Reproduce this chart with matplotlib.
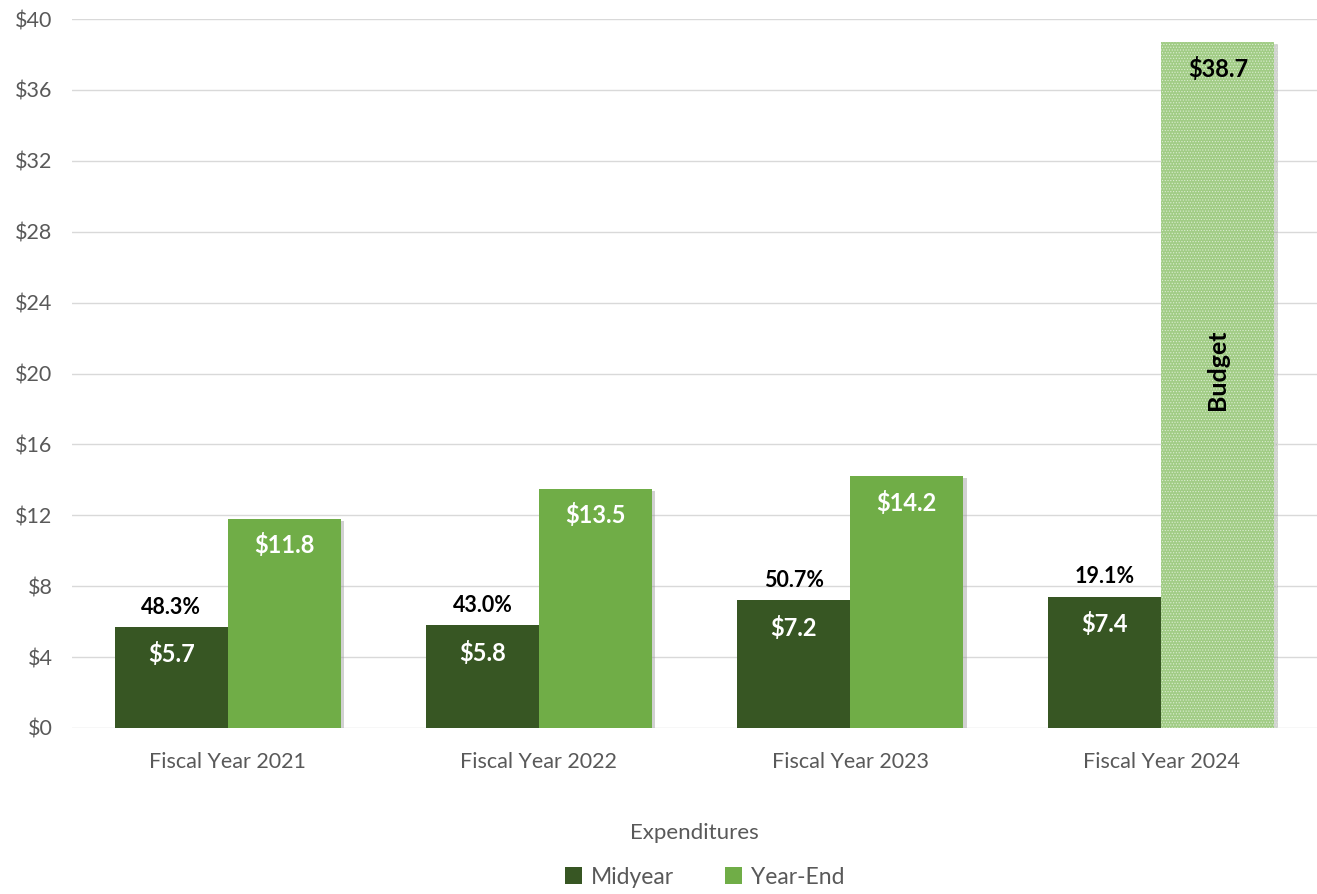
import matplotlib
matplotlib.use("Agg")
import matplotlib.pyplot as plt
import matplotlib.patheffects as pe
from matplotlib.patches import Patch

categories = ["Fiscal Year 2021", "Fiscal Year 2022", "Fiscal Year 2023", "Fiscal Year 2024"]
midyear = [5.7, 5.8, 7.2, 7.4]
year_end = [11.8, 13.5, 14.2, 38.7]
pct_labels = ["48.3%", "43.0%", "50.7%", "19.1%"]
y_ticks = [0, 4, 8, 12, 16, 20, 24, 28, 32, 36, 40]

dark = "#375623"
light = "#70ad47"
budget_face = "#a1cc85"
grid_c = "#d9d9d9"
text_gray = "#595959"

plt.rcParams["font.family"] = ["Lato", "DejaVu Sans"]
plt.rcParams["hatch.color"] = "#dcedd2"
plt.rcParams["hatch.linewidth"] = 0.5

fig = plt.figure(figsize=(13.17, 8.94), dpi=100)
ax = fig.add_axes([0.0547, 0.1857, 0.9453, 0.793])

w = 0.363
x = list(range(len(categories)))
shadow = [pe.SimplePatchShadow(offset=(2.5, -1.5), shadow_rgbFace="#9a9a9a", alpha=0.45), pe.Normal()]

for i in x:
    b1 = ax.bar(i - w / 2, midyear[i], width=w, color=dark, zorder=3)
    b1[0].set_path_effects(shadow)
    if i < 3:
        b2 = ax.bar(i + w / 2, year_end[i], width=w, color=light, zorder=3)
    else:
        b2 = ax.bar(i + w / 2, year_end[i], width=w, color=budget_face,
                    hatch="......", edgecolor="#dcedd2", linewidth=0, zorder=3)
    b2[0].set_path_effects(shadow)

    ax.text(i - w / 2, midyear[i] - 1.55, f"${midyear[i]:.1f}", ha="center", va="center",
            color="white", fontsize=17, fontweight="bold", zorder=5)
    ax.text(i - w / 2, midyear[i] + 1.12, pct_labels[i], ha="center", va="center",
            color="black", fontsize=15.5, fontweight="bold", zorder=5)
    ec = "white" if i < 3 else "black"
    ax.text(i + w / 2, year_end[i] - 1.5, f"${year_end[i]:.1f}", ha="center", va="center",
            color=ec, fontsize=17, fontweight="bold", zorder=5)

ax.text(3 + w / 2, 20.2, "Budget", rotation=90, ha="center", va="center",
        color="black", fontsize=18, fontweight="bold", zorder=5)

ax.set_xlim(-0.5, 3.5)
ax.set_ylim(0, 40)
ax.set_yticks(y_ticks)
ax.set_yticklabels([f"${v}" for v in y_ticks])
ax.set_xticks(x)
ax.set_xticklabels(categories)
ax.tick_params(axis="both", length=0, labelsize=15.5, colors=text_gray)
ax.tick_params(axis="x", pad=17)
ax.tick_params(axis="y", pad=14)
ax.yaxis.grid(True, color=grid_c, linewidth=1, zorder=0)
ax.set_axisbelow(True)
for s in ax.spines.values():
    s.set_visible(False)

ax.set_xlabel("Expenditures", fontsize=16, color=text_gray, labelpad=37)

handles = [Patch(facecolor=dark), Patch(facecolor=light)]
fig.legend(handles, ["Midyear", "Year-End"], loc="lower center", ncol=2, frameon=False,
           bbox_to_anchor=(0.535, -0.016), fontsize=16.5, labelcolor=text_gray,
           handlelength=0.75, handleheight=0.75, columnspacing=2.2, handletextpad=0.4)

fig.savefig("out.png", dpi=100)
